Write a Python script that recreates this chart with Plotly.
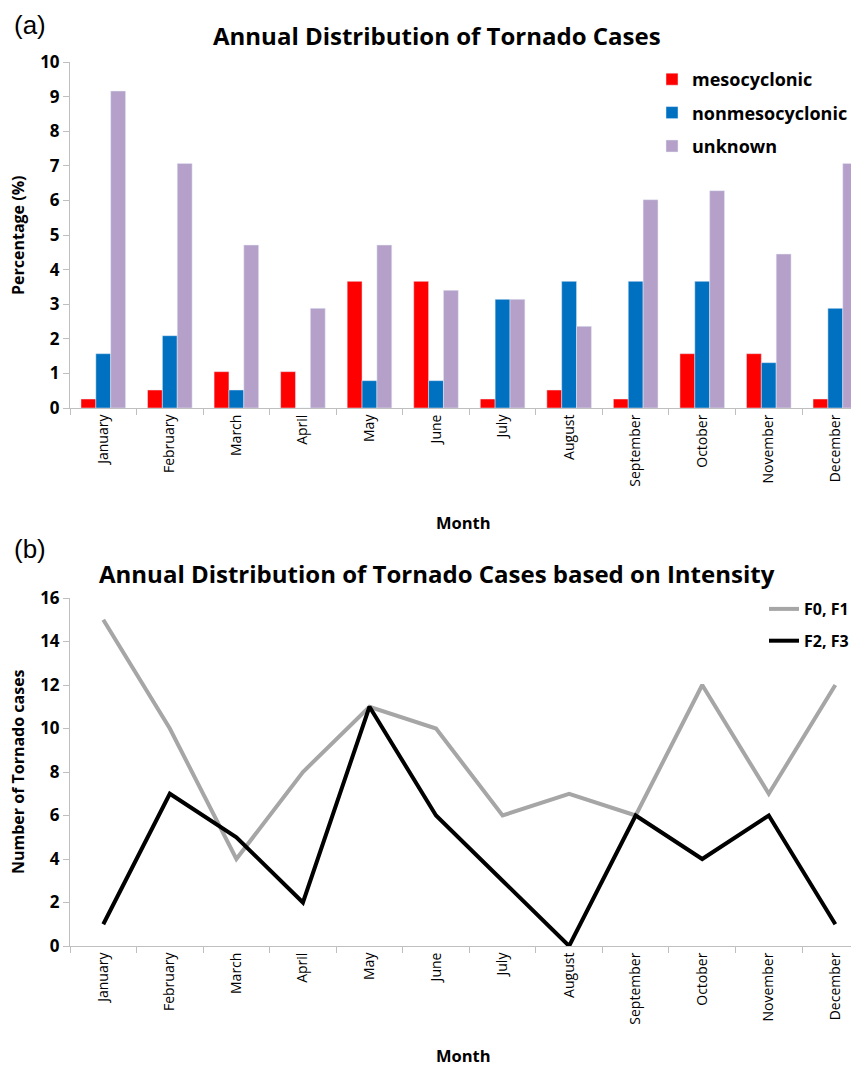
import plotly.graph_objects as go

months = ["January", "February", "March", "April", "May", "June", "July",
          "August", "September", "October", "November", "December"]
mesocyclonic = [0.26, 0.52, 1.05, 1.05, 3.66, 3.66, 0.26, 0.52, 0.26, 1.57, 1.57, 0.26]
nonmesocyclonic = [1.57, 2.09, 0.52, 0.0, 0.79, 0.79, 3.14, 3.66, 3.66, 3.66, 1.31, 2.88]
unknown = [9.16, 7.07, 4.71, 2.88, 4.71, 3.40, 3.14, 2.36, 6.02, 6.28, 4.45, 7.07]
f0_f1 = [15, 10, 4, 8, 11, 10, 6, 7, 6, 12, 7, 12]
f2_f3 = [1, 7, 5, 2, 11, 6, 3, 0, 6, 4, 6, 1]

FONT = "'Open Sans', sans-serif"
# the page body has an 8px margin; size the figure so it fills the 859x1068 window
OFF = 8
W, H = 859 - OFF, 1068 - OFF


def px(x):
    return (x - OFF) / W


def py(y):
    return 1 - (y - OFF) / H


fig = go.Figure()
fig.add_trace(go.Bar(x=months, y=mesocyclonic, name="mesocyclonic", marker_color="#ff0000",
                     xaxis="x", yaxis="y", legend="legend", legendgroup="a"))
fig.add_trace(go.Bar(x=months, y=nonmesocyclonic, name="nonmesocyclonic", marker_color="#0070c0",
                     xaxis="x", yaxis="y", legend="legend", legendgroup="b"))
fig.add_trace(go.Bar(x=months, y=unknown, name="unknown", marker_color="#b4a0c8",
                     xaxis="x", yaxis="y", legend="legend", legendgroup="c"))
fig.add_trace(go.Scatter(x=months, y=f0_f1, name="F0, F1", mode="lines",
                         line=dict(color="#a6a6a6", width=4), xaxis="x2", yaxis="y2",
                         legend="legend2", legendgroup="d"))
fig.add_trace(go.Scatter(x=months, y=f2_f3, name="F2, F3", mode="lines",
                         line=dict(color="#000000", width=4), xaxis="x2", yaxis="y2",
                         legend="legend2", legendgroup="e"))

# plot area runs from x=70 past the right edge of the window (clipped, as in the reference)
X0, X1, STEP = 70, 859, 66.55
xd = [px(X0), px(X1)]
xrange_ = [-0.5, -0.5 + (X1 - X0) / STEP]

axis_common = dict(showline=True, linecolor="#bfbfbf", linewidth=1, showgrid=False, zeroline=False,
                   ticks="outside", tickcolor="#bfbfbf", ticklen=6, automargin=False)
xaxis_common = dict(axis_common, tickangle=-90, tickson="boundaries", range=xrange_,
                    tickfont=dict(family=FONT, size=14, color="#000"))
ytick = dict(family=FONT, size=17, color="#000", weight="bold")


def label(text, x, y, size, angle=0, family=FONT, yanchor="middle"):
    return dict(text=text, x=px(x), y=py(y), xref="paper", yref="paper", xanchor="center",
                yanchor=yanchor, textangle=angle, showarrow=False, borderpad=0,
                font=dict(family=family, size=size, color="#000"))


fig.update_layout(
    width=W, height=H,
    margin=dict(l=0, r=0, t=0, b=0, autoexpand=False),
    paper_bgcolor="white", plot_bgcolor="white",
    font=dict(family=FONT, color="#000"),
    barmode="group", bargap=0.33, bargroupgap=0,
    xaxis=dict(xaxis_common, domain=xd, anchor="y"),
    yaxis=dict(axis_common, domain=[py(408), py(62)], range=[0, 10], dtick=1, anchor="x",
               tickfont=ytick),
    xaxis2=dict(xaxis_common, domain=xd, anchor="y2"),
    yaxis2=dict(axis_common, domain=[py(946), py(598)], range=[0, 16], dtick=2, anchor="x2",
                tickfont=ytick),
    legend=dict(x=px(652), y=py(61), xanchor="left", yanchor="top", bgcolor="rgba(0,0,0,0)",
                font=dict(family=FONT, size=18, color="#000", weight="bold"), tracegroupgap=7,
                itemwidth=30),
    legend2=dict(x=px(854), y=py(592), xanchor="right", yanchor="top", bgcolor="rgba(0,0,0,0)",
                 font=dict(family=FONT, size=16, color="#000", weight="bold"), tracegroupgap=8,
                 itemwidth=30),
    annotations=[
        label("<b>Annual Distribution of Tornado Cases</b>", 437, 36, 24),
        label("(a)", 30, 9, 26, family="'Liberation Sans', Arial, sans-serif", yanchor="top"),
        label("<b>Annual Distribution of Tornado Cases based on Intensity</b>", 437, 573, 24),
        label("(b)", 30, 549, 26, family="'Liberation Sans', Arial, sans-serif"),
        label("<b>Percentage (%)</b>", 18, 236, 16, angle=-90),
        label("<b>Number of Tornado cases</b>", 18, 772, 16, angle=-90),
        label("<b>Month</b>", 463, 522, 16.5),
        label("<b>Month</b>", 463, 1055, 16.5),
    ],
)

fig.write_html("out.html")
